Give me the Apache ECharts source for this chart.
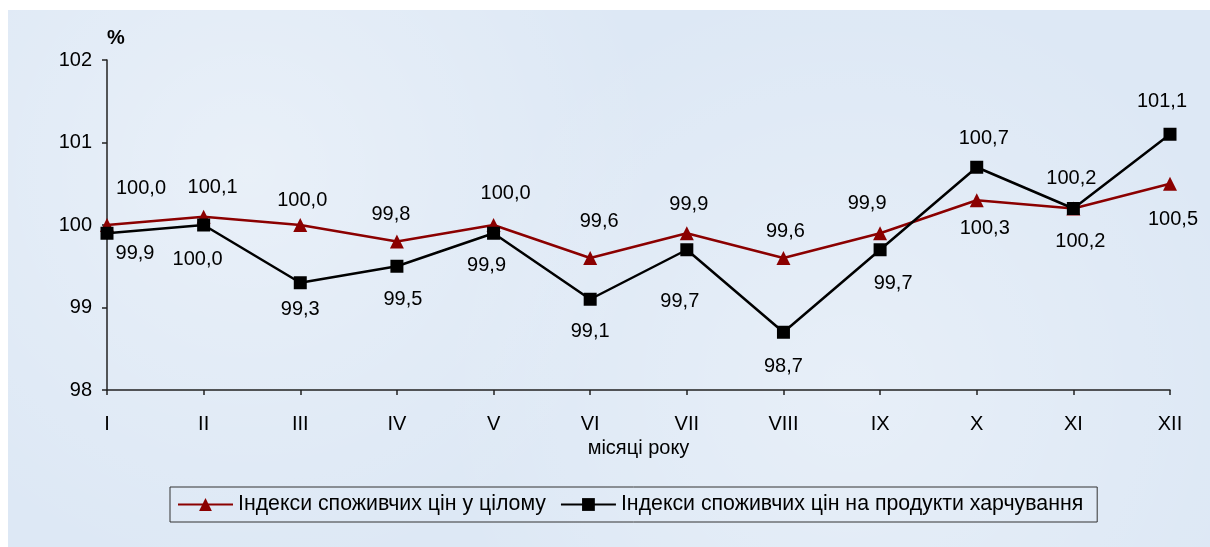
<!DOCTYPE html>
<html>
<head>
<meta charset="utf-8">
<script src="https://cdn.jsdelivr.net/npm/echarts@6/dist/echarts.min.js"></script>
<style>
  html, body { margin: 0; padding: 0; background: #ffffff; }
  #bg { position: absolute; left: 8px; top: 10px; width: 1202px; height: 537px;
        background:
          radial-gradient(circle at 20% 30%, rgba(255,255,255,0.35), rgba(255,255,255,0) 40%),
          radial-gradient(circle at 70% 70%, rgba(255,255,255,0.3), rgba(255,255,255,0) 45%),
          #dde8f5; }
  #chart { position: absolute; left: 0; top: 0; width: 1210px; height: 547px; }
</style>
</head>
<body>
<div id="bg"></div>
<div id="chart"></div>
<script>
// ---- data ----
const months = ['I', 'II', 'III', 'IV', 'V', 'VI', 'VII', 'VIII', 'IX', 'X', 'XI', 'XII'];
const cpiTotal = [100.0, 100.1, 100.0, 99.8, 100.0, 99.6, 99.9, 99.6, 99.9, 100.3, 100.2, 100.5];
const cpiFood = [99.9, 100.0, 99.3, 99.5, 99.9, 99.1, 99.7, 98.7, 99.7, 100.7, 100.2, 101.1];
const totalName = 'Індекси споживчих цін у цілому';
const foodName = 'Індекси споживчих цін на продукти харчування';
const yMin = 98, yMax = 102, yStep = 1;

// ---- label placement (style) ----
const totalLabelOffsets = [[34,-37],[9,-29],[2,-25],[-6,-27],[12,-32],[9,-37],[2,-29],[2,-27],[-13,-30],[8,28],[7,33],[3,36]];
const foodLabelOffsets = [[28,20],[-6,34],[0,27],[6,33],[-7,32],[0,32],[-7,52],[0,34],[13,34],[7,-29],[-2,-30],[-8,-33]];

const FONT = '"Liberation Sans", Arial, sans-serif';
const fmt = v => v.toFixed(1).replace('.', ',');

function buildData(values, offsets) {
  return values.map((v, i) => ({
    value: v,
    label: { offset: offsets[i] }
  }));
}

const chart = echarts.init(document.getElementById('chart'), null, { renderer: 'canvas' });
chart.setOption({
  backgroundColor: 'transparent',
  animation: false,
  textStyle: { fontFamily: FONT },
  grid: { left: 107, right: 40, top: 60, bottom: 157, containLabel: false },
  legend: {
    left: 170, top: 487,
    itemWidth: 55, itemHeight: 16, itemGap: 14,
    padding: [7, 14, 7, 7],
    borderColor: '#333', borderWidth: 1,
    textStyle: { fontSize: 21.3, color: '#000', fontFamily: FONT },
    data: [totalName, foodName]
  },
  xAxis: {
    type: 'category',
    data: months,
    boundaryGap: false,
    name: 'місяці року',
    nameLocation: 'middle',
    nameGap: 47,
    nameTextStyle: { fontSize: 20, color: '#000', fontFamily: FONT },
    axisLine: { lineStyle: { color: '#222', width: 1.5 } },
    axisTick: { show: true, length: 5, lineStyle: { color: '#222', width: 1.5 } },
    axisLabel: { margin: 24, fontSize: 20, color: '#000', fontFamily: FONT },
    splitLine: { show: false }
  },
  yAxis: {
    type: 'value',
    min: yMin, max: yMax, interval: yStep,
    name: '%',
    nameLocation: 'end',
    nameGap: 12,
    nameTextStyle: { fontSize: 20, fontWeight: 'bold', color: '#000', align: 'left', fontFamily: FONT },
    axisLine: { show: true, lineStyle: { color: '#222', width: 1.5 } },
    axisTick: { show: true, length: 5, lineStyle: { color: '#222', width: 1.5 } },
    axisLabel: { margin: 15, fontSize: 20, color: '#000', fontFamily: FONT },
    splitLine: { show: false }
  },
  series: [
    {
      name: totalName,
      type: 'line',
      data: buildData(cpiTotal, totalLabelOffsets),
      symbol: 'triangle',
      symbolSize: 14,
      lineStyle: { color: '#8b0000', width: 2.5 },
      itemStyle: { color: '#8b0000' },
      label: {
        show: true, position: 'inside', fontSize: 20, color: '#000', fontFamily: FONT,
        formatter: p => fmt(p.value)
      },
      z: 2
    },
    {
      name: foodName,
      type: 'line',
      data: buildData(cpiFood, foodLabelOffsets),
      symbol: 'rect',
      symbolSize: 13,
      lineStyle: { color: '#000', width: 2.5 },
      itemStyle: { color: '#000' },
      label: {
        show: true, position: 'inside', fontSize: 20, color: '#000', fontFamily: FONT,
        formatter: p => fmt(p.value)
      },
      z: 3
    }
  ]
});
</script>
</body>
</html>
